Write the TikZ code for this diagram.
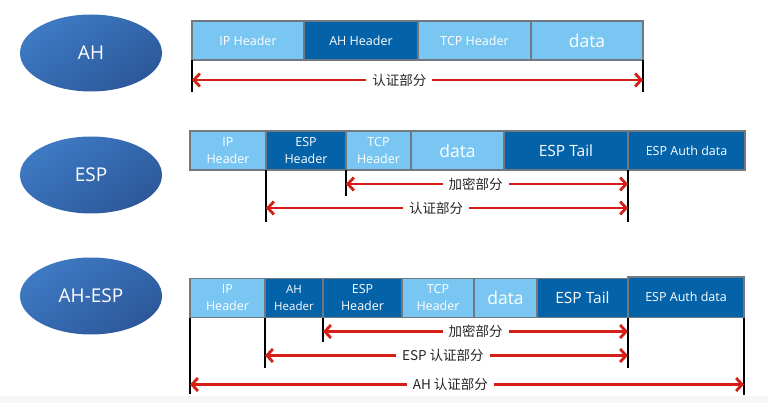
\documentclass[tikz,border=0pt]{standalone}
\usepackage{fontspec}
\setmainfont{Open Sans}
\newfontfamily\cjk{Noto Sans CJK SC}
\usepackage{tikz}
\usetikzlibrary{shapes.geometric, arrows.meta, positioning, calc}
\definecolor{pktlight}{RGB}{122, 198, 242}
\definecolor{pktdark}{RGB}{4, 98, 168}
\definecolor{pktedge}{RGB}{112, 120, 128}
\definecolor{spanred}{RGB}{212, 30, 22}
\definecolor{ovaltop}{RGB}{62, 122, 196}
\definecolor{ovalbot}{RGB}{44, 88, 154}

\tikzset{
  field/.style={draw=pktedge, line width=1.5pt, text=white, minimum height=39pt,
                inner sep=1pt, outer sep=0pt, align=center,
                font=\fontsize{12.5}{17}\selectfont},
  lite/.style={field, fill=pktlight},
  dark/.style={field, fill=pktdark},
  bigtext/.style={font=\fontsize{17.5}{18}\selectfont},
  tailtext/.style={font=\fontsize{15.5}{16}\selectfont},
  proto/.style={ellipse, minimum width=142pt, minimum height=77pt, inner sep=0pt,
                top color=ovaltop, bottom color=ovalbot, shading angle=35,
                text=white, font=\fontsize{19}{19}\selectfont},
  bar/.style={line width=2pt, black},
  span/.style={spanred, line width=2.8pt,
               {Straight Barb[length=6pt,width=13pt]}-{Straight Barb[length=6pt,width=13pt]}},
  spanlbl/.style={fill=white, inner xsep=6pt, inner ysep=1pt, text=black!85,
                  font=\cjk\fontsize{13.5}{14}\selectfont},
}

\begin{document}
\begin{tikzpicture}[x=1pt, y=-1pt]
    \useasboundingbox (0,0) rectangle (768,403);
    \fill[black!3] (0,396) rectangle (768,403);
    % Protocol ovals
    \node[proto] (ah)    at (91,53)  {AH};
    \node[proto] (esp)   at (91,175) {ESP};
    \node[proto] (ahesp) at (91,296) {AH-ESP};

    % AH packet
    \node[lite, minimum width=112pt, anchor=west] (ip1) at (192,40.5) {IP Header};
    \node[dark, minimum width=114pt, right=0pt of ip1] (ah1) {AH Header};
    \node[lite, minimum width=113pt, right=0pt of ah1] (tcp1) {TCP Header};
    \node[lite, minimum width=112pt, right=0pt of tcp1, bigtext] (data1) {data};
    \draw[bar] (ip1.south west) -- ++(0,32);
    \draw[bar] (data1.south east) -- ++(0,32);
    \draw[span] ($(ip1.south west)+(0,20)$) --
        node[spanlbl, pos=0.46] {认证部分} ($(data1.south east)+(0,20)$);

    % ESP packet
    \node[lite, minimum width=76pt, anchor=west] (ip2) at (190,150.5) {IP\\Header};
    \node[dark, minimum width=80pt, right=0pt of ip2] (esph2) {ESP\\Header};
    \node[lite, minimum width=65pt, right=0pt of esph2] (tcp2) {TCP\\Header};
    \node[lite, minimum width=93pt, right=0pt of tcp2, bigtext] (data2) {data};
    \node[dark, minimum width=124pt, right=0pt of data2, tailtext] (tail2) {ESP Tail};
    \node[dark, minimum width=117pt, right=0pt of tail2] (auth2) {ESP Auth data};
    \draw[bar] (esph2.south west) -- ++(0,52);
    \draw[bar] (tcp2.south west) -- ++(0,26);
    \draw[bar] (tail2.south east) -- ++(0,52);
    \draw[span] ($(tcp2.south west)+(0,14)$) --
        node[spanlbl, pos=0.46] {加密部分} ($(tail2.south east)+(0,14)$);
    \draw[span] ($(esph2.south west)+(0,38)$) --
        node[spanlbl, pos=0.47] {认证部分} ($(tail2.south east)+(0,38)$);

    % AH-ESP packet
    \node[lite, minimum width=75pt, anchor=west] (ip3) at (190,298) {IP\\Header};
    \node[dark, minimum width=58pt, right=0pt of ip3,
          font=\fontsize{11.5}{17}\selectfont] (ah3) {AH\\Header};
    \node[dark, minimum width=79pt, right=0pt of ah3] (esph3) {ESP\\Header};
    \node[lite, minimum width=72pt, right=0pt of esph3] (tcp3) {TCP\\Header};
    \node[lite, minimum width=63pt, right=0pt of tcp3, bigtext] (data3) {data};
    \node[dark, minimum width=91pt, right=0pt of data3, tailtext] (tail3) {ESP Tail};
    \node[dark, minimum width=116pt, minimum height=40.5pt, anchor=south west]
        (auth3) at (tail3.south east) {ESP Auth data};
    \draw[bar] (ip3.south west) -- ++(0,76);
    \draw[bar] (ah3.south west) -- ++(0,50);
    \draw[bar] (esph3.south west) -- ++(0,24);
    \draw[bar] (tail3.south east) -- ++(0,50);
    \draw[bar] (auth3.south east) -- ++(0,77);
    \draw[span] ($(esph3.south west)+(0,14)$) --
        node[spanlbl, pos=0.50] {加密部分} ($(tail3.south east)+(0,14)$);
    \draw[span] ($(ah3.south west)+(0,38)$) --
        node[spanlbl, pos=0.49] {ESP 认证部分} ($(tail3.south east)+(0,38)$);
    \draw[span] ($(ip3.south west)+(0,67)$) --
        node[spanlbl, pos=0.47] {AH 认证部分} ($(auth3.south east)+(0,67)$);
\end{tikzpicture}
\end{document}
